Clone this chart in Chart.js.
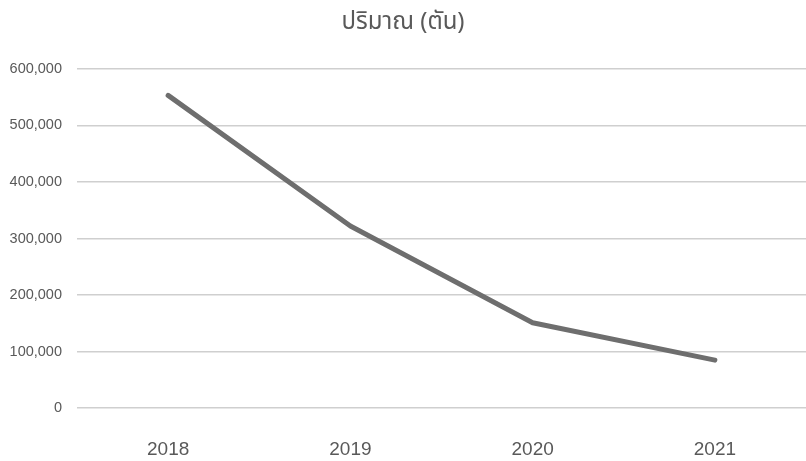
<!DOCTYPE html>
<html>
<head>
<meta charset="utf-8">
<script src="https://cdn.jsdelivr.net/npm/chart.js@4/dist/chart.umd.min.js"></script>
<style>
    html, body { margin: 0; padding: 0; background: #fff; overflow: hidden; }
    #wrap { width: 806px; height: 461px; position: relative; }
</style>
</head>
<body>
<div id="wrap"><canvas id="chart"></canvas></div>
<script>
/* Tonnage by year */
const years = ['2018', '2019', '2020', '2021'];
const tonnes = [553000, 322000, 151000, 85000];
const yTicks = [0, 100000, 200000, 300000, 400000, 500000, 600000];
const chartTitle = 'ปริมาณ (ตัน)';

const TEXT = '#595959';
const GRID = '#cfcfcf';
const LINE = '#6e6e6e';

new Chart(document.getElementById('chart').getContext('2d'), {
    type: 'line',
    data: {
        labels: years,
        datasets: [{
            data: tonnes,
            borderColor: LINE,
            borderWidth: 5,
            borderCapStyle: 'round',
            borderJoinStyle: 'round',
            pointRadius: 0,
            tension: 0,
        }]
    },
    options: {
        responsive: true,
        maintainAspectRatio: false,
        animation: false,
        layout: { padding: { left: 0, right: 0, top: 0, bottom: -30 } },
        plugins: {
            legend: { display: false },
            tooltip: { enabled: false },
            title: {
                display: true,
                text: chartTitle,
                color: TEXT,
                font: { family: "'Noto Sans Thai', 'Noto Sans', 'Liberation Sans', sans-serif", size: 24, weight: 'normal' },
                padding: { top: 10, bottom: 30 },
            }
        },
        scales: {
            x: {
                offset: true,
                grid: { display: false, drawTicks: false },
                border: { display: false },
                ticks: { color: TEXT, padding: 30, font: { family: "'Liberation Sans', sans-serif", size: 19 } }
            },
            y: {
                min: yTicks[0],
                max: yTicks[yTicks.length - 1],
                afterBuildTicks: s => { s.ticks = yTicks.map(v => ({ value: v })); },
                afterFit: s => { s.width = 77; },
                grid: { color: GRID, lineWidth: 1.5, drawTicks: false },
                border: { display: false },
                ticks: {
                    color: TEXT,
                    padding: 15,
                    font: { family: "'Liberation Sans', sans-serif", size: 14.5 },
                    callback: v => Number(v).toLocaleString('en-US')
                }
            }
        }
    }
});
</script>
</body>
</html>
